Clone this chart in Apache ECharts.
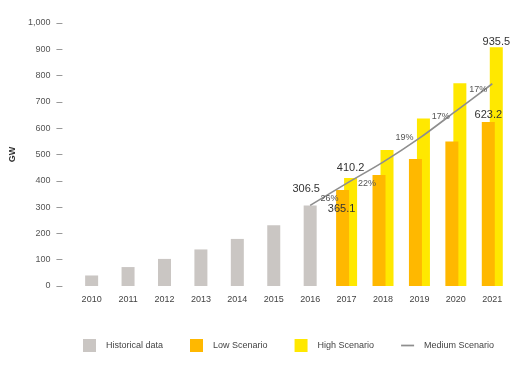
<!DOCTYPE html>
<html><head><meta charset="utf-8">
<script src="https://cdn.jsdelivr.net/npm/echarts@6/dist/echarts.min.js"></script>
<style>html,body{margin:0;padding:0;background:#fff}#c{width:520px;height:368px}</style>
</head><body><div id="c"></div>
<script>
var years = ['2010','2011','2012','2013','2014','2015','2016','2017','2018','2019','2020','2021'];
var historical = [40, 72, 103, 139, 179, 231, 306.5, null, null, null, null, null];
var lowScenario = [null, null, null, null, null, null, null, 365.1, 422, 483, 549, 623.2];
var highScenario = [null, null, null, null, null, null, null, 410.2, 517, 637, 771, 908];
var mediumScenario = [null, null, null, null, null, null, 306.5, 390, 471, 562, 665, 769];
var growthLabels = ['', '', '', '', '', '', '', '26%', '22%', '19%', '17%', '17%'];
var historicalLabels = ['', '', '', '', '', '', '306.5', '', '', '', '', ''];
var lowLabels = ['', '', '', '', '', '', '', '365.1', '', '', '', '623.2'];
var highLabels = ['', '', '', '', '', '', '', '410.2', '', '', '', '935.5'];
var yTicks = [0, 100, 200, 300, 400, 500, 600, 700, 800, 900, 1000];

var FONT = 'Liberation Sans, Arial, sans-serif';
var valueLabel = {fontSize: 11, color: '#333', fontFamily: FONT};

function withLabels(values, labels, styleFor) {
  return values.map(function (v, i) {
    if (!labels[i]) return {value: v, label: {show: false}};
    var s = styleFor(i);
    return {value: v, label: Object.assign({show: true, formatter: labels[i]}, valueLabel, s)};
  });
}

var histData = withLabels(historical, historicalLabels, function () {
  return {position: 'top', offset: [-4, -6]};
});
var lowData = withLabels(lowScenario, lowLabels, function (i) {
  return i === 7 ? {position: 'insideTop', offset: [-1, 8]} : {position: 'top', offset: [0, 3]};
});
var highData = withLabels(highScenario, highLabels, function (i) {
  return i === 7 ? {position: 'top', offset: [0, 0]} : {position: 'top', offset: [0, 5]};
});
var growthOffsets = {7: [-17, 15], 8: [-16, 21], 9: [-15, -1], 10: [-15, 5], 11: [-14, 6]};
var medData = mediumScenario.map(function (v, i) {
  if (!growthLabels[i]) return {value: v, label: {show: false}};
  return {value: v, label: {show: true, formatter: growthLabels[i], position: 'inside',
    offset: growthOffsets[i], fontSize: 9, color: '#555', fontFamily: FONT}};
});

var chart = echarts.init(document.getElementById('c'));
chart.setOption({
  animation: false,
  textStyle: {fontFamily: FONT},
  grid: {left: 64, right: 9.5, top: 23, bottom: 82, containLabel: false},
  xAxis: [
    {type: 'category', data: years, axisLine: {show: false}, axisTick: {show: false},
     axisLabel: {fontSize: 9, color: '#444', margin: 9}},
    {type: 'category', data: years, show: false}
  ],
  yAxis: {
    type: 'value', min: 0, max: 1000, interval: 100, offset: 11,
    name: 'GW', nameLocation: 'middle', nameRotate: 90, nameGap: 37,
    nameTextStyle: {fontSize: 9, color: '#333', fontWeight: 'bold'},
    axisLine: {show: false},
    axisTick: {show: true, length: 6, lineStyle: {color: '#999'}},
    splitLine: {show: false},
    axisLabel: {fontSize: 9, color: '#555', margin: 12,
      formatter: function (v) { return v.toLocaleString('en-US'); }}
  },
  legend: {
    left: 83, top: 339, padding: 0, itemWidth: 13, itemHeight: 13, itemGap: 27,
    textStyle: {fontSize: 9, color: '#444', padding: [0, 0, 0, 5]},
    data: [
      {name: 'Historical data', icon: 'rect'},
      {name: 'Low Scenario', icon: 'rect'},
      {name: 'High Scenario', icon: 'rect'},
      {name: 'Medium Scenario', icon: 'path://M0,0 L12,0 L12,1.6 L0,1.6 Z'}
    ]
  },
  series: [
    {name: 'Historical data', type: 'bar', xAxisIndex: 0, barWidth: 13,
     itemStyle: {color: '#CAC6C3'}, data: histData},
    {name: 'Low Scenario', type: 'bar', xAxisIndex: 1, barWidth: 13, barGap: '-38.5%', z: 3,
     itemStyle: {color: '#FFB800'}, data: lowData},
    {name: 'High Scenario', type: 'bar', xAxisIndex: 1, barWidth: 13, barGap: '-38.5%', z: 2,
     itemStyle: {color: '#FFE800'}, data: highData},
    {name: 'Medium Scenario', type: 'line', xAxisIndex: 0, z: 5, smooth: 0.3,
     symbol: 'circle', symbolSize: 0, showSymbol: true,
     lineStyle: {color: '#8E8E8E', width: 1.6}, itemStyle: {color: '#8E8E8E'},
     data: medData}
  ]
});
</script></body></html>
